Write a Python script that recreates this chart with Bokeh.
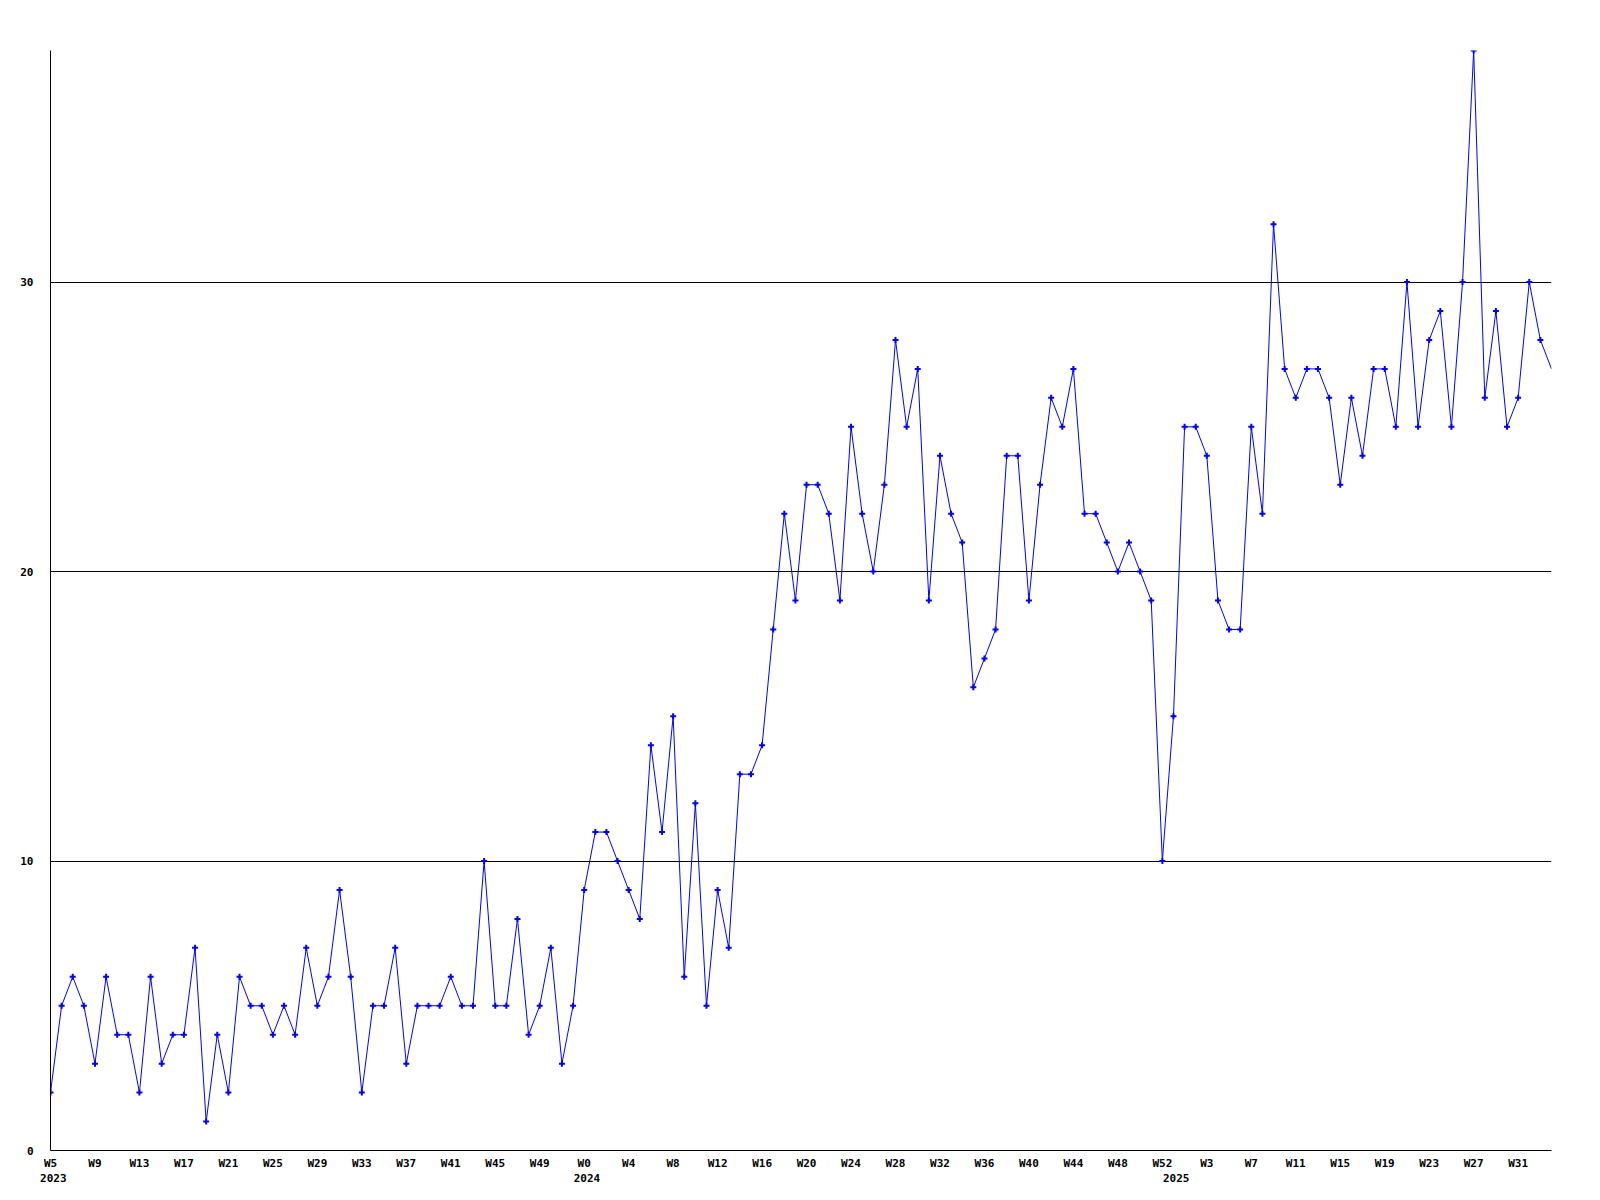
from bokeh.plotting import figure
from bokeh.models import FixedTicker, Range1d, LinearAxis
from bokeh.embed import file_html
from bokeh.resources import INLINE

# week labels per data point (categories)
years = [2023] * 48 + [2024] * 53 + [2025] * 35
weeks = list(range(5, 53)) + list(range(0, 53)) + list(range(0, 35))

# weekly counts
counts = [
    2, 5, 6, 5, 3, 6, 4, 4, 2, 6, 3, 4, 4, 7, 1, 4, 2, 6, 5, 5, 4, 5, 4, 7, 5, 6, 9, 6, 2, 5, 5, 7,
    3, 5, 5, 5, 6, 5, 5, 10, 5, 5, 8, 4, 5, 7, 3, 5,
    9, 11, 11, 10, 9, 8, 14, 11, 15, 6, 12, 5, 9, 7, 13, 13,
    14, 18, 22, 19, 23, 23, 22, 19, 25, 22, 20, 23, 28, 25, 27, 19,
    24, 22, 21, 16, 17, 18, 24, 24, 19, 23, 26, 25, 27, 22, 22, 21,
    20, 21, 20, 19, 10,
    15, 25, 25, 24, 19, 18, 18, 25, 22, 32, 27, 26, 27, 27, 26, 23,
    26, 24, 27, 27, 25, 30, 25, 28, 29, 25, 30, 38, 26, 29, 25, 26,
    30, 28, 27,
]

y_ticks = [0, 10, 20, 30]
grid_values = [10, 20, 30]
tick_step = 4

xs = list(range(len(counts)))
last = len(counts) - 1
tick_idx = list(range(0, last, tick_step))
tick_labels = {i: "W%d" % weeks[i] for i in tick_idx}

# year labels at the first week of each year
year_pos = []
year_labels = {}
for i, yv in enumerate(years):
    if i == 0 or years[i - 1] != yv:
        year_pos.append(i)
        year_labels[i] = str(yv)

FONT = "DejaVu Sans Mono"

p = figure(width=1592, height=1192, output_backend="svg", toolbar_location=None,
           x_range=Range1d(0, last), y_range=Range1d(0, 38),
           min_border_left=50, min_border_right=41, min_border_top=50, min_border_bottom=42)
p.outline_line_color = None
p.background_fill_color = "white"
p.border_fill_color = "white"

p.xgrid.visible = False
p.ygrid.ticker = FixedTicker(ticks=grid_values)
p.ygrid.grid_line_color = "black"
p.ygrid.grid_line_alpha = 1.0
p.ygrid.grid_line_width = 1


def style_axis(ax):
    ax.axis_line_color = "black"
    ax.axis_line_width = 1
    ax.major_tick_out = 0
    ax.major_tick_in = 0
    ax.minor_tick_out = 0
    ax.minor_tick_in = 0
    ax.major_label_text_font = FONT
    ax.major_label_text_font_style = "bold"
    ax.major_label_text_font_size = "11px"
    ax.major_label_text_color = "black"


style_axis(p.xaxis[0])
style_axis(p.yaxis[0])

p.yaxis.ticker = FixedTicker(ticks=y_ticks)
p.yaxis.major_label_standoff = 17
p.xaxis.ticker = FixedTicker(ticks=tick_idx)
p.xaxis.major_label_overrides = tick_labels
p.xaxis.major_label_standoff = 6

# second row of the x axis: the years (text starts slightly left of the week)
p.extra_x_ranges = {"years": Range1d(-0.25, last - 0.25)}
year_axis = LinearAxis(x_range_name="years", ticker=FixedTicker(ticks=year_pos),
                       major_label_overrides=year_labels)
style_axis(year_axis)
year_axis.axis_line_color = None
year_axis.major_label_standoff = 1
p.add_layout(year_axis, "below")

p.line(xs, counts, line_color="#0000ff", line_width=1)
# last point sits on the right edge of the plot, its marker is cut off there
p.scatter(xs[:-1], counts[:-1], marker="cross", size=6, line_color="#0000ff", line_width=2)

open("out.html", "w").write(file_html(p, INLINE))
